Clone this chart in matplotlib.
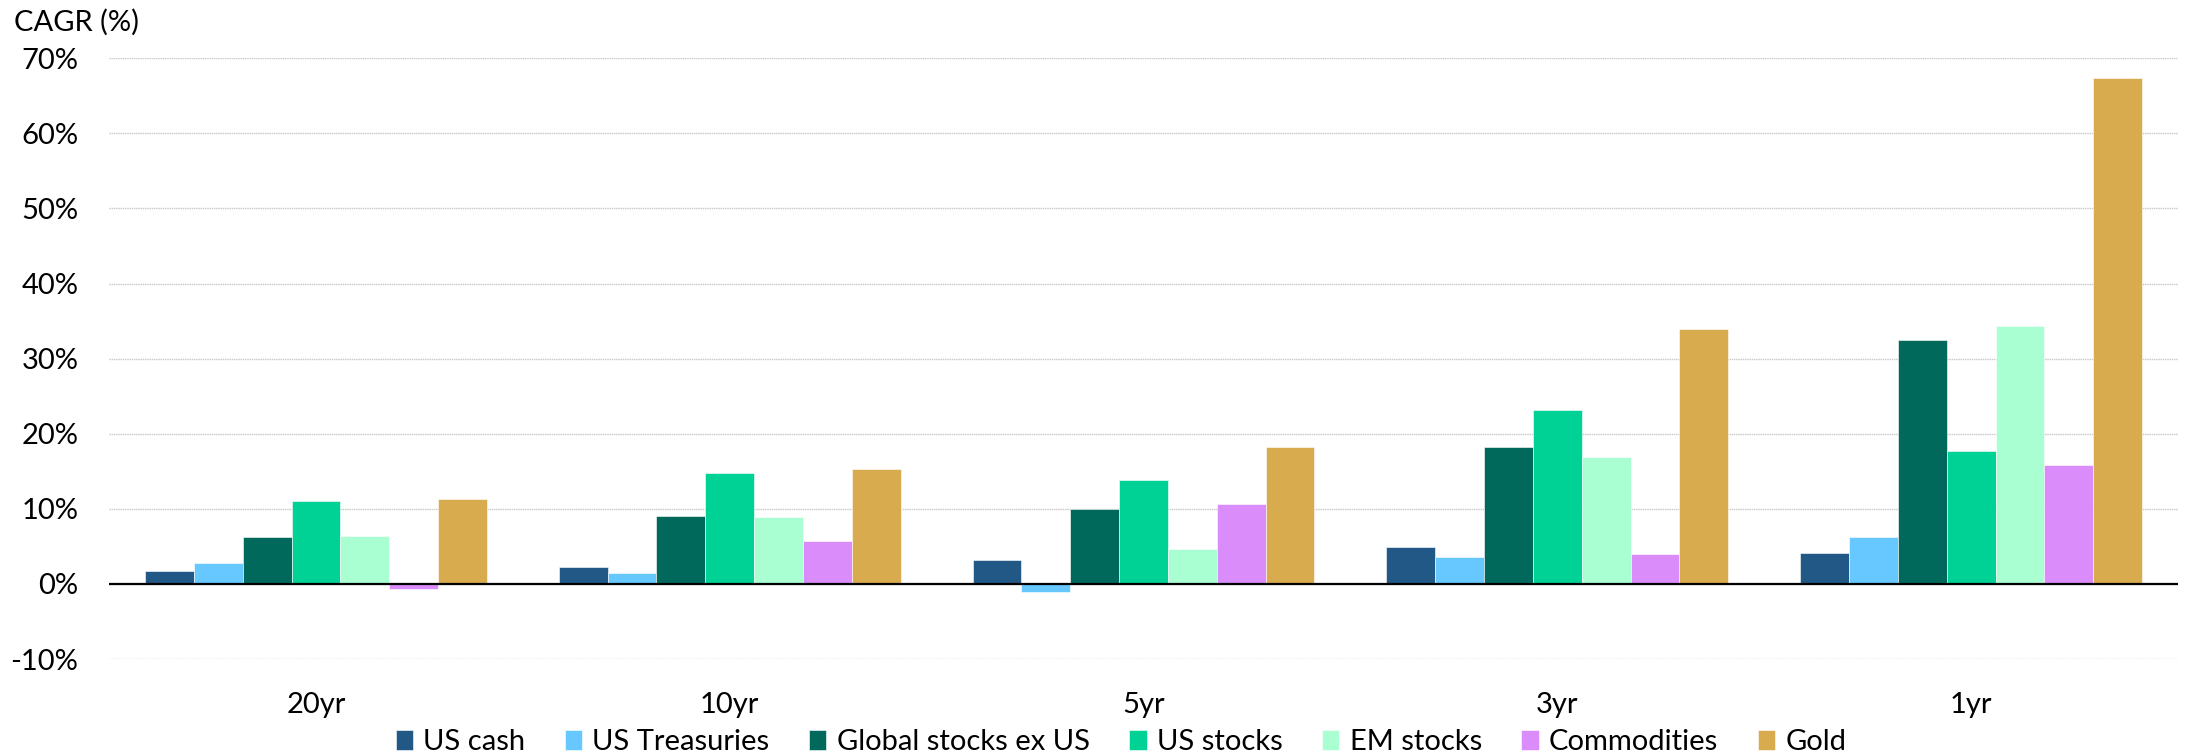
import matplotlib.pyplot as plt
import numpy as np
from matplotlib.ticker import FuncFormatter

plt.rcParams['font.family'] = ['Lato', 'DejaVu Sans']

periods = ["20yr", "10yr", "5yr", "3yr", "1yr"]
assets = ["US cash", "US Treasuries", "Global stocks ex US", "US stocks",
          "EM stocks", "Commodities", "Gold"]

us_cash = [1.73, 2.20, 3.16, 4.89, 4.17]
us_treasuries = [2.76, 1.42, -1.10, 3.64, 6.29]
global_ex_us = [6.27, 9.10, 10.04, 18.23, 32.54]
us_stocks = [11.00, 14.80, 13.87, 23.17, 17.72]
em_stocks = [6.40, 8.93, 4.67, 16.94, 34.34]
commodities = [-0.62, 5.73, 10.62, 3.92, 15.79]
gold = [11.33, 15.24, 18.27, 33.95, 67.40]

series = [us_cash, us_treasuries, global_ex_us, us_stocks,
          em_stocks, commodities, gold]
colores = ["#225886", "#66C8FF", "#00695B", "#00D296",
           "#AAFFD2", "#DA8CFA", "#D8AB4E"]

fig = plt.figure(figsize=(21.85, 7.56), dpi=100)
ax = fig.add_axes([0.0499, 0.1283, 0.9469, 0.7946])

x = np.arange(len(periods))
ancho = 0.826 / len(series)
for i, (nombre, valores, color) in enumerate(zip(assets, series, colores)):
    pos = x - 0.413 + ancho * (i + 0.5)
    ax.bar(pos, valores, width=ancho, color=color, label=nombre, zorder=3,
           edgecolor="white", linewidth=0.4)

ax.set_xlim(-0.5, len(periods) - 0.5)
ax.set_ylim(-10, 70)
ax.set_yticks(range(-10, 71, 10))
ax.yaxis.set_major_formatter(FuncFormatter(lambda v, _: f"{v:.0f}%"))
ax.set_xticks(x)
ax.set_xticklabels(periods)
ax.tick_params(axis="both", length=0, labelsize=21)
ax.tick_params(axis="y", pad=22)
ax.tick_params(axis="x", pad=24)

ax.grid(axis="y", color="#C8C8C8", linestyle=(0, (1, 0.6)), linewidth=1.0, zorder=0)
ax.axhline(0, color="black", linewidth=1.6, zorder=4)
for lado in ["top", "right", "left", "bottom"]:
    ax.spines[lado].set_visible(False)

fig.text(0.0064, 0.971, "CAGR (%)", fontsize=21, va="center", ha="left")

fig.legend(loc="center", bbox_to_anchor=(0.513, 0.0185), ncol=7, frameon=False,
           fontsize=21, handlelength=0.6, handleheight=0.65, handletextpad=0.35,
           columnspacing=1.35, borderaxespad=0)

fig.savefig("out.png", dpi=100)
